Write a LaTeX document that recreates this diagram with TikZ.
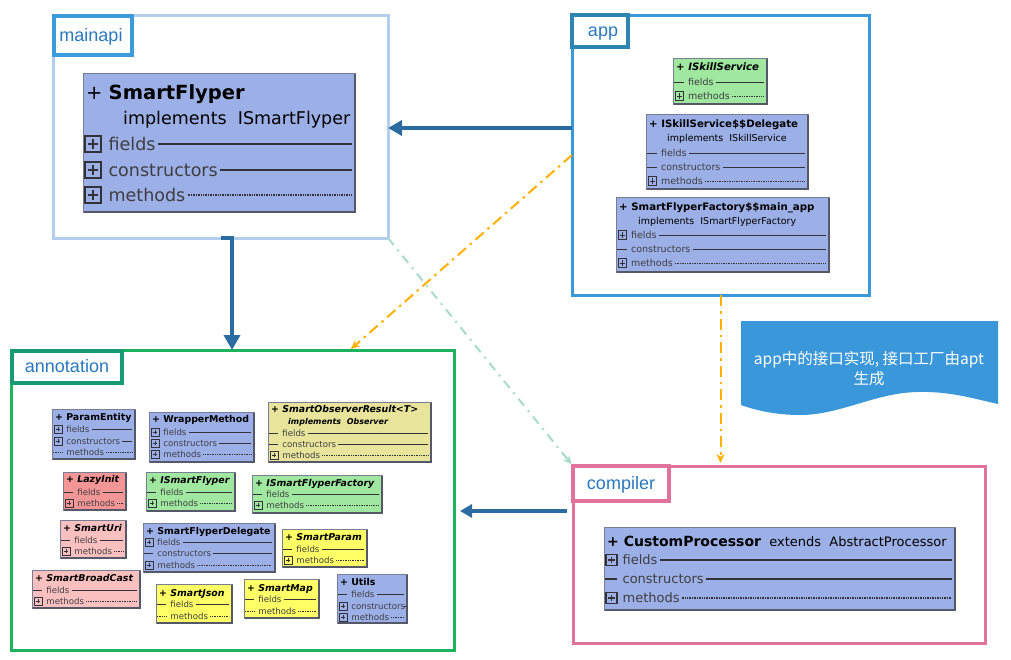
\documentclass[tikz,border=0pt]{standalone}
\usepackage{fontspec}
\setmainfont{DejaVu Sans}
\newfontfamily\labf{Liberation Sans}
\newfontfamily\cjkf{Noto Sans CJK SC}
\usetikzlibrary{arrows.meta}
\definecolor{cblue}{RGB}{156,175,230}
\definecolor{cgreen}{RGB}{160,232,160}
\definecolor{cyk}{RGB}{232,228,156}
\definecolor{cred}{RGB}{245,150,150}
\definecolor{cpink}{RGB}{250,192,192}
\definecolor{cyel}{RGB}{255,255,102}
\definecolor{rowgray}{RGB}{62,62,66}
\definecolor{linegray}{RGB}{50,50,56}
\definecolor{shadowc}{RGB}{85,88,105}
\definecolor{edgec}{RGB}{120,125,150}
\definecolor{fmain}{RGB}{180,207,235}
\definecolor{flabblue}{RGB}{59,155,219}
\definecolor{fapp}{RGB}{58,154,217}
\definecolor{flabapp}{RGB}{44,134,176}
\definecolor{fann}{RGB}{27,179,93}
\definecolor{flabann}{RGB}{24,154,116}
\definecolor{fcomp}{RGB}{224,115,154}
\definecolor{labtext}{RGB}{40,120,190}
\definecolor{arrblue}{RGB}{42,108,160}
\definecolor{arrorange}{RGB}{255,176,0}
\definecolor{arrteal}{RGB}{168,219,203}
\definecolor{notefill}{RGB}{58,152,218}

\newcounter{rowc}
% title size, row size, icon size, line width, shadow width
\newcommand\usz[5]{\def\ts{#1}\def\rs{#2}\def\is{#3}\def\ilw{#4}\def\shw{#5}}
\newcommand\ubox[6]{%
  \node[ubox,fill=#6,anchor=north west,minimum width={(#4-#2)*1pt},minimum height={(#5-#3)*1pt}] (#1) at (#2,#3) {};
  \draw[draw=shadowc,line width=\shw] ([xshift=1pt]#1.south west) -- (#1.south east) -- ([yshift=-1pt]#1.north east);
  \def\bx{#2}\def\bxr{#4}}
\newcommand\utitle[2]{\stepcounter{rowc}%
  \node[anchor=base west,inner sep=0,font=\bfseries\fontsize{\ts}{\ts}\selectfont] (t\therowc) at ({\bx+3},{#1+0.36*\ts}) {#2};}
\newcommand\uimpl[3]{\stepcounter{rowc}%
  \node[anchor=base west,inner sep=0,font=\fontsize{\rs}{\rs}\selectfont] (m\therowc) at ({\bx+#2},{#1+0.36*\rs}) {#3};}
\newcommand\urow[4]{\stepcounter{rowc}%
  \ifx p#2
    \draw[line width=\ilw,linegray] ({\bx+2},{#1-\is/2}) rectangle ({\bx+2+\is},{#1+\is/2});
    \draw[line width=\ilw,linegray] ({\bx+2+0.2*\is},#1) -- ({\bx+2+0.8*\is},#1) ({\bx+2+\is/2},{#1-0.3*\is}) -- ({\bx+2+\is/2},{#1+0.3*\is});
  \else\ifx d#2
    \draw[line width=\ilw,linegray] ({\bx+1},#1) -- ({\bx+2+\is},#1);
  \else
    \draw[line width=\ilw,linegray,dotline] ({\bx+1},#1) -- ({\bx+2+\is},#1);
  \fi\fi
  \node[anchor=base west,inner sep=0,text=rowgray,font=\fontsize{\rs}{\rs}\selectfont] (r\therowc) at ({\bx+2+1.4*\is+1},{#1+0.36*\rs}) {#3};
  \coordinate (y\therowc) at (0,#1);
  \draw[line width=\ilw,linegray,#4] (r\therowc.east |- y\therowc) ++(2,0) -- ({\bxr-3},#1);}
\newcommand\uframe[6]{\node[#6,anchor=north west,minimum width={(#4-#2)*1pt},minimum height={(#5-#3)*1pt}] (#1) at (#2,#3) {};}
\newcommand\ulabel[7]{\node[#6,anchor=north west,minimum width={(#4-#2)*1pt},minimum height={(#5-#3)*1pt}] (#1) at (#2,#3) {#7};}

\begin{document}
\begin{tikzpicture}[x=1pt,y=-1pt,
  ubox/.style={draw=edgec,line width=0.5pt,inner sep=0,outer sep=0},
  dotline/.style={dash pattern=on 0.6pt off 1.1pt},
  frame/.style={draw,line width=3pt,inner sep=0,outer sep=0},
  labbox/.style={draw,fill=white,line width=3.5pt,inner sep=0,outer sep=0,text=labtext,
     font=\labf\fontsize{18}{18}\selectfont,text height=11pt,text depth=0pt},
  bluearr/.style={draw=arrblue,line width=3.5pt,-{Triangle[length=14pt,width=15pt]}},
  orangearr/.style={draw=arrorange,line width=2pt,dash pattern=on 11pt off 5pt on 2.5pt off 5pt,-{Stealth[length=9pt,width=8pt]}},
  tealarr/.style={draw=arrteal,line width=2pt,dash pattern=on 9pt off 6pt on 2pt off 6pt,-{Stealth[length=9pt,width=8pt]}}]
\fill[white] (0,0) rectangle (1011,659);
\useasboundingbox (0,0) rectangle (1011,659);

% frames
\uframe{mainapi}{53}{15}{388}{238}{frame,draw=fmain}
\uframe{app}{572}{15}{869}{295}{frame,draw=fapp}
\uframe{annotation}{11}{350}{454}{650}{frame,draw=fann}
\uframe{compiler}{573}{466}{985}{643}{frame,draw=fcomp}
\ulabel{lmain}{54}{16}{132}{55}{labbox,draw=flabblue}{mainapi\hspace*{4pt}}
\ulabel{lapp}{572}{15}{628}{47}{labbox,draw=flabapp}{\hspace*{6pt}app}
\ulabel{lann}{12}{351}{122}{383}{labbox,draw=flabann}{annotation}
\ulabel{lcomp}{573}{466}{669}{501}{labbox,draw=fcomp}{compiler}

% mainapi class
\usz{19.5}{17.5}{16}{1.4pt}{2.6pt}
\ubox{sf}{83}{73}{355}{212}{cblue}
\stepcounter{rowc}\node[anchor=base west,inner sep=0,font=\fontsize{19.5}{19.5}\selectfont] (t\therowc) at (86,{92+7}) {+ \textbf{SmartFlyper}};
\uimpl{118}{40}{implements\ \ ISmartFlyper}
\urow{144}{p}{fields}{solid}
\urow{170}{p}{constructors}{solid}
\urow{195}{p}{methods}{dotline}

% app classes
\usz{10.2}{9.5}{8.5}{0.8pt}{1.6pt}
\ubox{iss}{673}{58}{767}{104}{cgreen}
\utitle{67}{\itshape + ISkillService}
\urow{82}{d}{fields}{solid}
\urow{96}{p}{methods}{dotline}
\ubox{issd}{646}{114}{808}{189}{cblue}
\utitle{124}{+ ISkillService\$\$Delegate}
\uimpl{138}{21}{implements\ \ ISkillService}
\urow{153}{d}{fields}{solid}
\urow{167}{d}{constructors}{solid}
\urow{181}{p}{methods}{dotline}
\ubox{sffm}{616}{197}{829}{272}{cblue}
\utitle{207}{+ SmartFlyperFactory\$\$main\_app}
\uimpl{221}{22}{implements\ \ ISmartFlyperFactory}
\urow{235}{p}{fields}{solid}
\urow{249}{d}{constructors}{solid}
\urow{263}{p}{methods}{dotline}

% compiler class
\usz{14}{13}{11}{1.1pt}{2.2pt}
\ubox{cp}{604}{527}{955}{610}{cblue}
\utitle{541}{+ CustomProcessor\mdseries\fontsize{13}{13}\selectfont\ \ extends\ \ AbstractProcessor}
\urow{560}{p}{fields}{solid}
\urow{579}{d}{constructors}{solid}
\urow{598}{p}{methods}{dotline}

% annotation classes
\usz{9.4}{8.6}{8}{0.8pt}{1.5pt}
\ubox{pe}{52}{409}{135}{459}{cblue}
\utitle{417}{+ ParamEntity}
\urow{429}{p}{fields}{solid}
\urow{441}{p}{constructors}{solid}
\urow{452}{o}{methods}{dotline}
\ubox{wm}{149}{412}{254}{462}{cblue}
\utitle{419}{+ WrapperMethod}
\urow{432}{p}{fields}{solid}
\urow{443}{p}{constructors}{solid}
\urow{454}{p}{methods}{dotline}
\ubox{sor}{268}{402}{431}{462}{cyk}
\utitle{409}{\itshape + SmartObserverResult<T>}
\uimpl{421}{20}{\bfseries\itshape\fontsize{8}{8}\selectfont implements\ \ Observer}
\urow{433}{d}{fields}{solid}
\urow{444}{d}{constructors}{solid}
\urow{455}{p}{methods}{dotline}
\ubox{li}{63}{472}{126}{510}{cred}
\utitle{479}{\itshape + LazyInit}
\urow{492}{d}{fields}{solid}
\urow{503}{p}{methods}{dotline}
\ubox{isf}{146}{472}{235}{511}{cgreen}
\utitle{480}{\itshape + ISmartFlyper}
\urow{492}{d}{fields}{solid}
\urow{503}{p}{methods}{dotline}
\ubox{isff}{252}{475}{382}{513}{cgreen}
\utitle{483}{\itshape + ISmartFlyperFactory}
\urow{494}{d}{fields}{solid}
\urow{505}{p}{methods}{dotline}
\ubox{su}{60}{520}{126}{558}{cpink}
\utitle{528}{\itshape + SmartUri}
\urow{540}{d}{fields}{solid}
\urow{551}{p}{methods}{dotline}
\ubox{sfd}{143}{523}{275}{572}{cblue}
\utitle{531}{+ SmartFlyperDelegate}
\urow{542}{p}{fields}{solid}
\urow{553}{d}{constructors}{solid}
\urow{565}{p}{methods}{dotline}
\ubox{sp}{282}{529}{367}{567}{cyel}
\utitle{537}{\itshape + SmartParam}
\urow{549}{d}{fields}{solid}
\urow{560}{p}{methods}{dotline}
\ubox{sbc}{32}{570}{140}{608}{cpink}
\utitle{578}{\itshape + SmartBroadCast}
\urow{590}{d}{fields}{solid}
\urow{601}{p}{methods}{dotline}
\ubox{sj}{156}{584}{232}{623}{cyel}
\utitle{593}{\itshape + SmartJson}
\urow{604}{d}{fields}{solid}
\urow{616}{o}{methods}{dotline}
\ubox{sm}{244}{579}{319}{618}{cyel}
\utitle{588}{\itshape + SmartMap}
\urow{599}{d}{fields}{solid}
\urow{611}{o}{methods}{dotline}
\ubox{ut}{337}{574}{407}{623}{cblue}
\utitle{582}{+ Utils}
\urow{594}{d}{fields}{solid}
\urow{606}{p}{constructors}{solid}
\urow{617}{p}{methods}{dotline}

% note banner
\fill[notefill] (741,321) -- (998,321) -- (998,404) .. controls (975,399) and (950,391) .. (917,392) .. controls (875,393) and (840,415) .. (800,415) .. controls (775,415) and (755,410) .. (741,405) -- cycle;
\node[text=white,align=center,inner sep=0,font=\cjkf\fontsize{15.5}{20}\selectfont] (note) at (869,369) {app中的接口实现, 接口工厂由apt\\生成};

% connectors
\coordinate (ya) at (0,128);
\draw[bluearr] (app.west |- ya) -- (mainapi.east |- ya);
\coordinate (ma) at (221,238);
\coordinate (mb) at (232,238);
\draw[bluearr,line width=4pt,-{Triangle[length=15pt,width=16pt]}] (ma) -- (mb) -- (mb |- annotation.north);
\coordinate (yc) at (0,511);
\draw[bluearr,shorten <=6pt,shorten >=6pt,-{Triangle[length=12pt,width=13pt]}] (compiler.west |- yc) -- (annotation.east |- yc);
\coordinate (oa) at (351,349);
\draw[orangearr] (app.west) -- (oa);
\draw[orangearr,shorten >=3pt] (app.south) -- (app.south |- compiler.north);
\draw[tealarr,shorten >=2pt] (mainapi.south east) -- (compiler.north west);
\end{tikzpicture}
\end{document}
